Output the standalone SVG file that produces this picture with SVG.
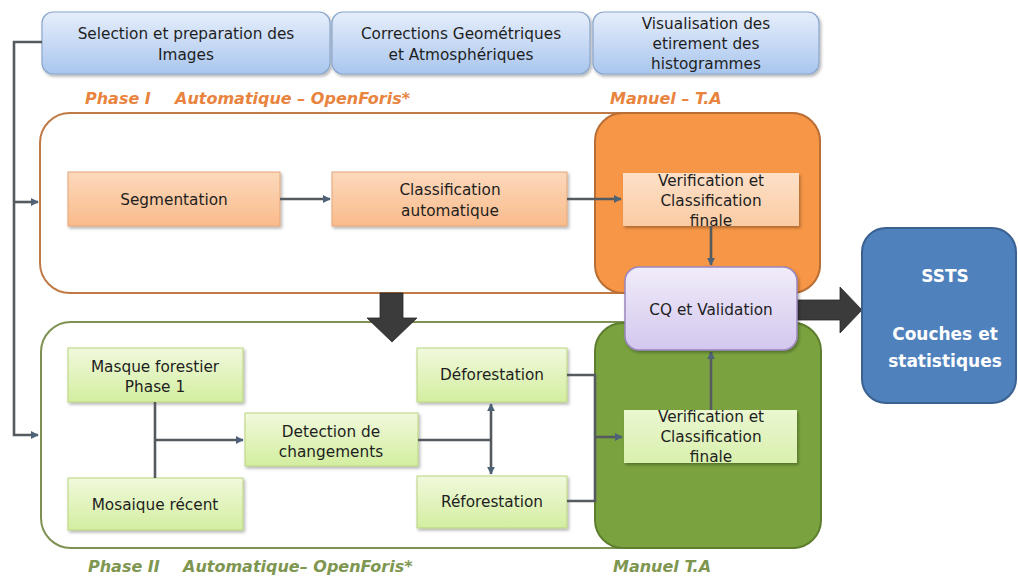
<svg xmlns="http://www.w3.org/2000/svg" width="1018" height="577" viewBox="0 0 1018 577">
  <defs>
    <linearGradient id="gBlue" x1="0" y1="0" x2="0" y2="1">
      <stop offset="0" stop-color="#e6eefb"/>
      <stop offset="1" stop-color="#a9c6ee"/>
    </linearGradient>
    <linearGradient id="gPeach" x1="0" y1="0" x2="0" y2="1">
      <stop offset="0" stop-color="#fcd9bc"/>
      <stop offset="1" stop-color="#f9bb8b"/>
    </linearGradient>
    <linearGradient id="gPeachLight" x1="0" y1="0" x2="0" y2="1">
      <stop offset="0" stop-color="#fde0c8"/>
      <stop offset="1" stop-color="#fbcca4"/>
    </linearGradient>
    <linearGradient id="gLime" x1="0" y1="0" x2="0" y2="1">
      <stop offset="0" stop-color="#f1f9dc"/>
      <stop offset="1" stop-color="#d3eea0"/>
    </linearGradient>
    <linearGradient id="gLimeLight" x1="0" y1="0" x2="0" y2="1">
      <stop offset="0" stop-color="#eaf7d0"/>
      <stop offset="1" stop-color="#d9f0ae"/>
    </linearGradient>
    <linearGradient id="gLav" x1="0" y1="0" x2="0" y2="1">
      <stop offset="0" stop-color="#f1ecfa"/>
      <stop offset="1" stop-color="#d3c7ee"/>
    </linearGradient>
    <filter id="shadow" x="-10%" y="-10%" width="125%" height="130%">
      <feDropShadow dx="1.5" dy="2" stdDeviation="1.5" flood-color="#000" flood-opacity="0.3"/>
    </filter>
    <marker id="arrow" viewBox="0 0 10 10" refX="9" refY="5" markerWidth="3" markerHeight="3" orient="auto-start-reverse" markerUnits="strokeWidth">
      <path d="M0,0 L10,5 L0,10 Z" fill="#4e6378"/>
    </marker>
    <style>
      .txt { font-family: "DejaVu Sans", Verdana, sans-serif; font-size: 15.3px; fill: #1e1e1e; text-anchor: middle; }
      .top { fill: url(#gBlue); stroke: #8aa6cc; stroke-width: 1.2; filter: url(#shadow); }
      .peach { fill: url(#gPeach); stroke: #e4a676; stroke-width: 1; filter: url(#shadow); }
      .peachL { fill: url(#gPeachLight); stroke: none; filter: url(#shadow); }
      .lime { fill: url(#gLime); stroke: #b9d37f; stroke-width: 1; filter: url(#shadow); }
      .limeL { fill: url(#gLimeLight); stroke: none; filter: url(#shadow); }
      .label { font-family: "DejaVu Sans", Verdana, sans-serif; font-size: 16px; font-weight: bold; font-style: italic; }
      .lblO { fill: #e9843e; }
      .lblG { fill: #7e9650; }
      .conn { fill: none; stroke: #555a5f; stroke-width: 2.6; }
      .big { fill: #3b3b3b; stroke: #2a2a2a; stroke-width: 0.8; }
      .white { font-family: "DejaVu Sans", Verdana, sans-serif; font-size: 17px; font-weight: bold; fill: #ffffff; text-anchor: middle; }
    </style>
  </defs>

  <rect width="1018" height="577" fill="#ffffff"/>

  <!-- Phase frames -->
  <g id="phase1-frame">
    <rect x="40" y="113" width="780" height="180" rx="30" fill="#ffffff" stroke="#c07a45" stroke-width="2"/>
  </g>
  <g id="phase2-frame">
    <rect x="41" y="322" width="779" height="226" rx="30" fill="#ffffff" stroke="#7d9150" stroke-width="2"/>
  </g>
  <g id="manual1">
    <rect x="595" y="113" width="225" height="180" rx="28" fill="#f79646" stroke="#b86e34" stroke-width="2"/>
  </g>
  <g id="manual2">
    <rect x="595" y="323" width="226" height="225" rx="28" fill="#7aa33f" stroke="#5e7e2f" stroke-width="2"/>
  </g>

  <!-- Phase labels -->
  <g id="labels">
    <text class="label lblO" x="85" y="104">Phase I</text>
    <text class="label lblO" x="175" y="104">Automatique – OpenForis*</text>
    <text class="label lblO" x="610" y="104">Manuel – T.A</text>
    <text class="label lblG" x="88" y="572">Phase II</text>
    <text class="label lblG" x="183" y="572">Automatique– OpenForis*</text>
    <text class="label lblG" x="613" y="572">Manuel T.A</text>
  </g>

  <!-- Preparation steps -->
  <g id="selection">
    <rect class="top" x="42" y="12" width="288" height="62" rx="11"/>
    <text class="txt" x="186" y="39">Selection et preparation des</text>
    <text class="txt" x="186" y="60">Images</text>
  </g>
  <g id="corrections">
    <rect class="top" x="332" y="12" width="258" height="62" rx="11"/>
    <text class="txt" x="461" y="39">Corrections Geométriques</text>
    <text class="txt" x="461" y="60">et Atmosphériques</text>
  </g>
  <g id="visualisation">
    <rect class="top" x="593" y="12" width="226" height="62" rx="11"/>
    <text class="txt" x="706" y="29">Visualisation des</text>
    <text class="txt" x="706" y="49">etirement des</text>
    <text class="txt" x="706" y="69">histogrammes</text>
  </g>

  <!-- Phase I steps -->
  <g id="segmentation">
    <rect class="peach" x="68" y="172" width="212" height="54"/>
    <text class="txt" x="174" y="205">Segmentation</text>
  </g>
  <g id="classification">
    <rect class="peach" x="332" y="172" width="235" height="54"/>
    <text class="txt" x="450" y="195">Classification</text>
    <text class="txt" x="450" y="216">automatique</text>
  </g>
  <g id="verification1">
    <rect class="peachL" x="623" y="173" width="176" height="53"/>
    <text class="txt" x="711" y="186">Verification et</text>
    <text class="txt" x="711" y="206">Classification</text>
    <text class="txt" x="711" y="226">finale</text>
  </g>

  <!-- Phase II steps -->
  <g id="masque">
    <rect class="lime" x="68" y="348" width="175" height="54"/>
    <text class="txt" x="155" y="372">Masque forestier</text>
    <text class="txt" x="155" y="392">Phase 1</text>
  </g>
  <g id="mosaique">
    <rect class="lime" x="68" y="478" width="175" height="52"/>
    <text class="txt" x="155" y="510">Mosaique récent</text>
  </g>
  <g id="detection">
    <rect class="lime" x="245" y="413" width="173" height="53"/>
    <text class="txt" x="331" y="437">Detection de</text>
    <text class="txt" x="331" y="457">changements</text>
  </g>
  <g id="deforestation">
    <rect class="lime" x="417" y="348" width="150" height="54"/>
    <text class="txt" x="492" y="380">Déforestation</text>
  </g>
  <g id="reforestation">
    <rect class="lime" x="417" y="476" width="150" height="52"/>
    <text class="txt" x="492" y="507">Réforestation</text>
  </g>
  <g id="verification2">
    <rect class="limeL" x="624" y="410" width="173" height="53"/>
    <text class="txt" x="711" y="422">Verification et</text>
    <text class="txt" x="711" y="442">Classification</text>
    <text class="txt" x="711" y="462">finale</text>
  </g>

  <!-- Connectors -->
  <g id="connectors">
    <path class="conn" d="M42,42 H14 V435 H38" marker-end="url(#arrow)"/>
    <path class="conn" d="M14,202 H38" marker-end="url(#arrow)"/>
    <path class="conn" d="M280,199 H330" marker-end="url(#arrow)"/>
    <path class="conn" d="M567,199 H621" marker-end="url(#arrow)"/>
    <path class="conn" d="M711,226 V265" marker-end="url(#arrow)"/>
    <path class="conn" d="M155,402 V478"/>
    <path class="conn" d="M155,440 H243" marker-end="url(#arrow)"/>
    <path class="conn" d="M418,440 H491"/>
    <path class="conn" d="M491,404 V474" marker-start="url(#arrow)" marker-end="url(#arrow)"/>
    <path class="conn" d="M567,375 H595 V501 H567"/>
    <path class="conn" d="M595,437 H622" marker-end="url(#arrow)"/>
    <path class="conn" d="M711,410 V352" marker-end="url(#arrow)"/>
    <path class="big" d="M380,293 H403 V318 H417 L392,342 L367,318 H380 Z"/>
    <path class="big" d="M797,300 H840 V287 L862,310 L840,333 V320 H797 Z"/>
  </g>

  <!-- Quality control -->
  <g id="cq">
    <rect x="625" y="267" width="172" height="83" rx="14" fill="url(#gLav)" stroke="#9b86bf" stroke-width="1.5" filter="url(#shadow)"/>
    <text class="txt" x="711" y="315">CQ et Validation</text>
  </g>

  <!-- Output -->
  <g id="ssts">
    <rect x="862" y="228" width="154" height="175" rx="24" fill="#4f81bd" stroke="#3a6190" stroke-width="2"/>
    <text class="white" x="945" y="282">SSTS</text>
    <text class="white" x="945" y="340">Couches et</text>
    <text class="white" x="945" y="367">statistiques</text>
  </g>
</svg>
